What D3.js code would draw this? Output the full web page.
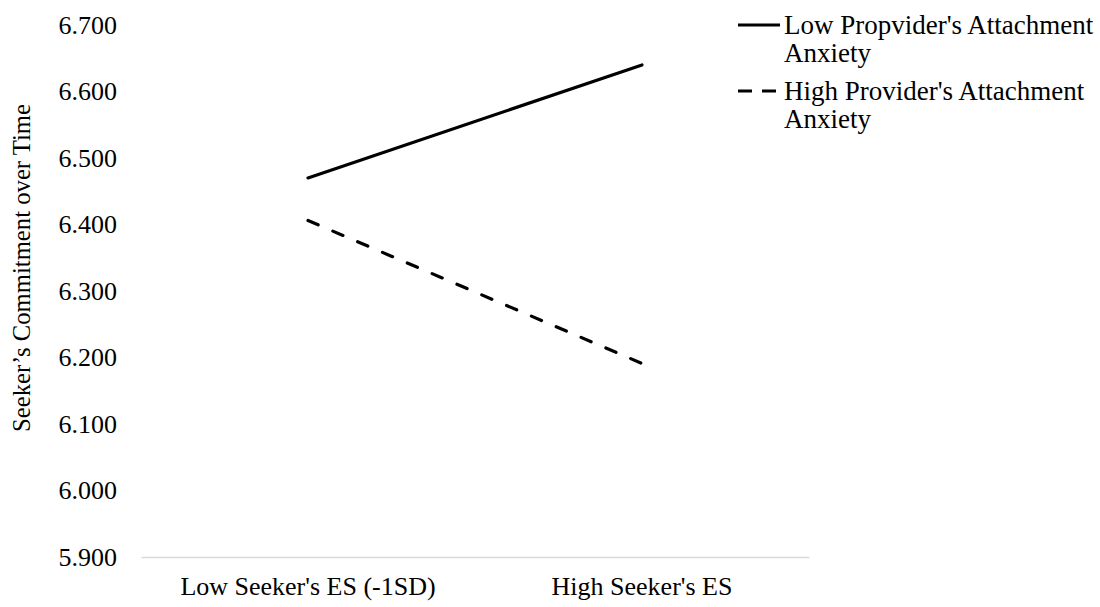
<!DOCTYPE html>
<html lang="en">
<head>
  <meta charset="UTF-8">
  <title>Seeker's Commitment over Time</title>
  <style>
    body{ margin: 0; background: #fff; }
    .y-axis .domain, .y-axis line{ display: none; }
    .x-axis .domain{ stroke: #d9d9d9; stroke-width: 1.5; }
    .x-axis line{ display: none; }
  </style>
</head>
<body>
  <script src="https://cdn.jsdelivr.net/npm/d3@7"></script>
  <script>
    const categories = ["Low Seeker's ES (-1SD)", "High Seeker's ES"];
    const lowAnxiety = [6.470, 6.640];
    const highAnxiety = [6.406, 6.191];
    const seriesNames = ["Low Propvider's Attachment Anxiety", "High Provider's Attachment Anxiety"];
    const yTicks = [5.9, 6.0, 6.1, 6.2, 6.3, 6.4, 6.5, 6.6, 6.7];

    const width = 1100, height = 607;
    const margin = {left: 141, right: 291, top: 25, bottom: 50};
    const serif = "'Liberation Serif', 'Times New Roman', serif";

    const svg = d3.select('body').append('svg')
      .attr('width', width)
      .attr('height', height);

    const x = d3.scaleBand().domain(categories).range([margin.left, width - margin.right]);
    const y = d3.scaleLinear().domain([5.9, 6.7]).range([height - margin.bottom, margin.top]);

    // y axis, labels only
    svg.append('g')
      .attr('class', 'y-axis')
      .attr('transform', `translate(${margin.left},0)`)
      .call(d3.axisLeft(y).tickValues(yTicks).tickFormat(d3.format('.3f')).tickSize(0).tickPadding(24))
      .selectAll('text')
      .style('font-family', serif)
      .style('font-size', '26px')
      .attr('fill', '#000');

    // x axis
    svg.append('g')
      .attr('class', 'x-axis')
      .attr('transform', `translate(0,${y(5.9)})`)
      .call(d3.axisBottom(x).tickSize(0).tickSizeOuter(0).tickPadding(20))
      .selectAll('text')
      .style('font-family', serif)
      .style('font-size', '26px')
      .attr('fill', '#000');

    svg.append('text')
      .attr('transform', `translate(30,268) rotate(-90)`)
      .attr('text-anchor', 'middle')
      .style('font-family', serif)
      .style('font-size', '24.7px')
      .text("Seeker\u2019s Commitment over Time");

    const line = d3.line()
      .x((d, i) => x(categories[i]) + x.bandwidth() / 2)
      .y(d => y(d));

    svg.append('path')
      .datum(lowAnxiety)
      .attr('d', line)
      .attr('fill', 'none')
      .attr('stroke', '#000')
      .attr('stroke-width', 3.2)
      .attr('stroke-linecap', 'round');

    svg.append('path')
      .datum(highAnxiety)
      .attr('d', line)
      .attr('fill', 'none')
      .attr('stroke', '#000')
      .attr('stroke-width', 3.2)
      .attr('stroke-linecap', 'round')
      .attr('stroke-dasharray', '11,16');

    // legend
    const legend = svg.append('g').attr('transform', 'translate(738,0)');
    const entries = [
      {name: seriesNames[0], dash: null, y: 25},
      {name: seriesNames[1], dash: '14,10', y: 91}
    ];
    entries.forEach(e => {
      legend.append('line')
        .attr('x1', 0).attr('x2', 42)
        .attr('y1', e.y).attr('y2', e.y)
        .attr('stroke', '#000')
        .attr('stroke-width', 3.2)
        .attr('stroke-dasharray', e.dash);
      const words = e.name.split(' ');
      const t = legend.append('text')
        .attr('x', 46)
        .attr('y', e.y)
        .attr('dy', '0.35em')
        .style('font-family', serif)
        .style('font-size', '27px');
      t.append('tspan').attr('x', 46).text(words.slice(0, 3).join(' '));
      t.append('tspan').attr('x', 46).attr('dy', 28).text(words.slice(3).join(' '));
    });
  </script>
</body>
</html>
